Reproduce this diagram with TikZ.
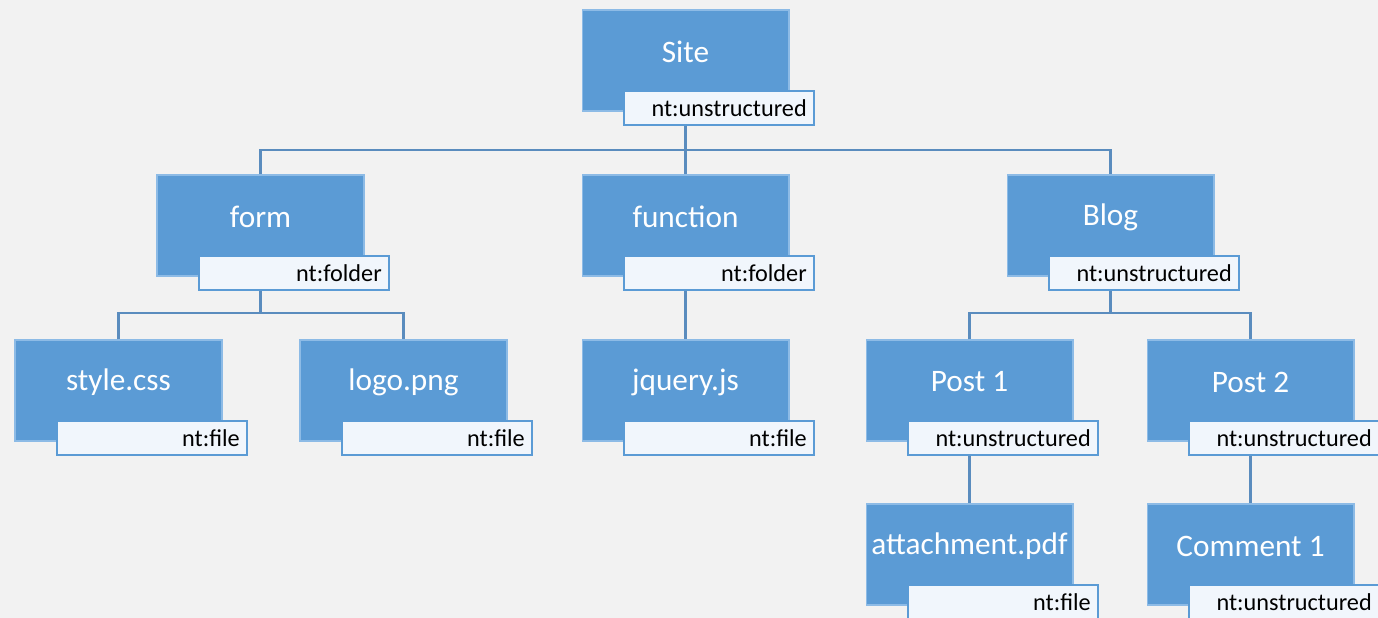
\documentclass[tikz,border=0pt]{standalone}
\usepackage{fontspec}
\setmainfont{Carlito}
\definecolor{bg}{HTML}{F2F2F2}
\definecolor{nodefill}{HTML}{5B9BD5}
\definecolor{nodeedge}{HTML}{8DBBE6}
\definecolor{tagfill}{HTML}{F1F6FC}
\definecolor{tagedge}{HTML}{5B9BD5}
\definecolor{wire}{HTML}{5A8CBE}
\tikzset{
  item/.style={rectangle, fill=nodefill, draw=nodeedge, line width=0.6pt,
    minimum width=4.14cm, minimum height=2.02cm, inner sep=0pt},
  itemtext/.style={text=white, font=\fontsize{17.8}{20}\selectfont, inner sep=0pt},
  tag/.style={rectangle, fill=tagfill, draw=tagedge, line width=0.9pt,
    minimum width=3.8cm, minimum height=0.68cm, inner xsep=0.14cm, inner ysep=0pt,
    text width=3.52cm, align=right, anchor=north west,
    font=\fontsize{13.8}{14}\selectfont},
  link/.style={draw=wire, line width=1.3pt}
}
% \treeitem{name}{left}{top}{caption}{node type}
\newcommand{\treeitem}[5]{%
  \node[item] (#1) at (#2+103.5,#3+50.5) {};
  \node[itemtext] (#1c) at (#2+103.5,#3+42) {#4};
  \node[tag] (#1t) at (#2+41,#3+80) {#5};
}
\begin{document}
\begin{tikzpicture}[x=0.02cm,y=-0.02cm]
\fill[bg] (0,0) rectangle (1378,618);
\useasboundingbox (0,0) rectangle (1378,618);

% heights of the horizontal bus lines
\coordinate (busroot) at (686,150);
\coordinate (busform) at (262,313);
\coordinate (busblog) at (1110,313);

\treeitem{site}{582}{10}{Site}{nt:unstructured}
\treeitem{form}{157}{175}{form}{nt:folder}
\treeitem{function}{582}{175}{function}{nt:folder}
\treeitem{blog}{1007}{175}{Blog}{nt:unstructured}
\treeitem{style}{15}{340}{style.css}{nt:file}
\treeitem{logo}{300}{340}{logo.png}{nt:file}
\treeitem{jquery}{582}{340}{jquery.js}{nt:file}
\treeitem{postA}{866}{340}{Post 1}{nt:unstructured}
\treeitem{postB}{1147}{340}{Post 2}{nt:unstructured}
\treeitem{attach}{866}{504}{attachment.pdf}{nt:file}
\treeitem{comment}{1147}{504}{Comment 1}{nt:unstructured}

% root level
\draw[link] (site |- sitet.south) -- (site |- busroot);
\draw[link] (form.north) |- (busroot) -| (blog.north);
\draw[link] (function |- busroot) -- (function.north);
% form children
\draw[link] (form |- formt.south) -- (form |- busform);
\draw[link] (style.north) |- (busform) -| (logo.north);
% function child
\draw[link] (function |- functiont.south) -- (jquery.north);
% blog children
\draw[link] (blog |- blogt.south) -- (blog |- busblog);
\draw[link] (postA.north) |- (busblog) -| (postB.north);
% post children
\draw[link] (postA |- postAt.south) -- (attach.north);
\draw[link] (postB |- postBt.south) -- (comment.north);
\end{tikzpicture}
\end{document}
